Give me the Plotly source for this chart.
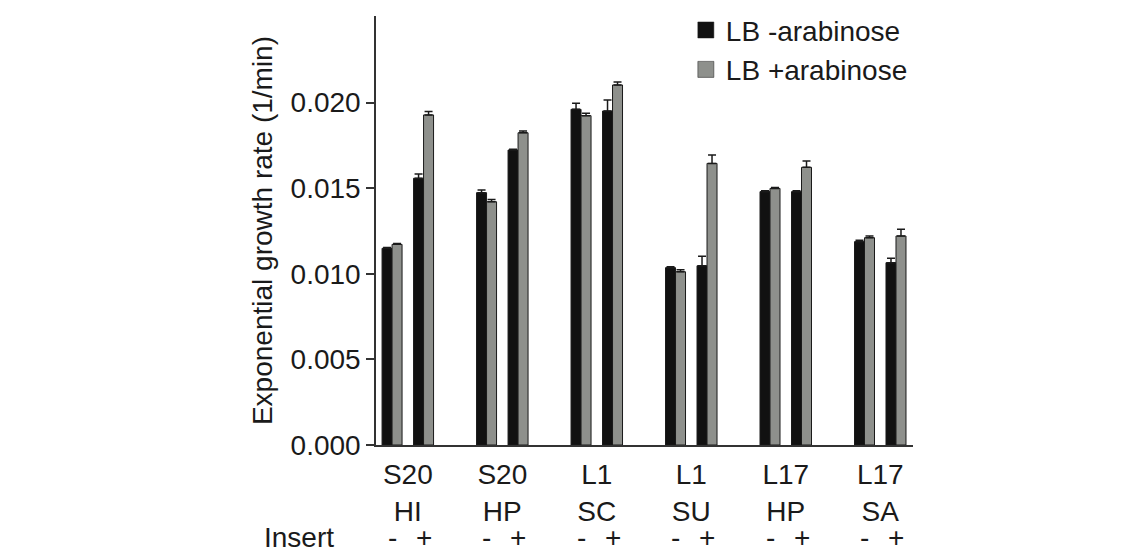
import plotly.graph_objects as go

# ---- data ----
strains = ["S20", "S20", "L1", "L1", "L17", "L17"]
proteins = ["HI", "HP", "SC", "SU", "HP", "SA"]
inserts = ["-", "+"]

# values ordered: group0 -, group0 +, group1 -, ...
minus_ara = [0.01149, 0.01558, 0.01474, 0.01723, 0.01961, 0.01951,
             0.01036, 0.01047, 0.01480, 0.01480, 0.01188, 0.01065]
minus_ara_err = [0.00005, 0.00025, 0.00015, 0.00005, 0.00035, 0.00064,
                 0.00005, 0.00055, 0.00005, 0.00005, 0.00008, 0.00026]
plus_ara = [0.01172, 0.01928, 0.01421, 0.01824, 0.01924, 0.02103,
            0.01012, 0.01645, 0.01499, 0.01622, 0.01211, 0.01221]
plus_ara_err = [0.00005, 0.00020, 0.00013, 0.00010, 0.00014, 0.00018,
                0.00012, 0.00049, 0.00005, 0.00037, 0.00010, 0.00039]

series_names = ["LB -arabinose", "LB +arabinose"]
series_colors = ["#111111", "#8e908c"]

# position of each bar pair: group index * 3 + insert index
xpos = [g * 3 + i for g in range(len(strains)) for i in range(len(inserts))]
group_centers = [g * 3 + 0.5 for g in range(len(strains))]
group_labels = [f"{s}<br>{p}" for s, p in zip(strains, proteins)]
insert_labels = [inserts[i] for g in range(len(strains)) for i in range(len(inserts))]

FONT = "Liberation Sans, Arial, Helvetica, sans-serif"
TXT = "#1a1a1a"
FS = 28

fig = go.Figure()
for name, vals, errs, col in [
    (series_names[0], minus_ara, minus_ara_err, series_colors[0]),
    (series_names[1], plus_ara, plus_ara_err, series_colors[1]),
]:
    fig.add_trace(go.Bar(
        x=xpos, y=vals, name=name, showlegend=False,
        marker=dict(color=col, line=dict(color="#1a1a1a", width=1)),
        error_y=dict(type="data", array=errs, arrayminus=[0] * len(errs),
                     symmetric=False, color="#1a1a1a", thickness=1.5, width=4),
    ))
    # legend entry with a larger square swatch
    fig.add_trace(go.Scatter(
        x=[None], y=[None], mode="markers", name=name, showlegend=True,
        marker=dict(symbol="square", size=16, color=col,
                    line=dict(color="#1a1a1a", width=0.5)),
    ))

for x, lab in zip(xpos, insert_labels):
    fig.add_annotation(x=x, y=-0.215, xref="x", yref="paper", text=lab,
                       showarrow=False, font=dict(size=FS, color=TXT, family=FONT),
                       xanchor="center", yanchor="middle")
fig.add_annotation(x=-0.143, y=-0.215, xref="paper", yref="paper", text="Insert",
                   showarrow=False, font=dict(size=FS, color=TXT, family=FONT),
                   xanchor="center", yanchor="middle")

fig.update_layout(
    width=1140, height=549,
    margin=dict(l=376, r=227, t=16, b=104, autoexpand=False),
    paper_bgcolor="white", plot_bgcolor="white",
    barmode="group", bargap=0.365, bargroupgap=0,
    font=dict(family=FONT, size=FS, color=TXT),
    showlegend=True,
    legend=dict(x=0.577, y=1.025, xanchor="left", yanchor="top",
                bgcolor="rgba(0,0,0,0)", font=dict(size=FS, color=TXT),
                tracegroupgap=0, itemwidth=30),
    xaxis=dict(range=[-0.51, 16.54], showline=True, linecolor="#333333",
               linewidth=1.5, ticks="", tickvals=group_centers,
               ticktext=group_labels, showgrid=False, zeroline=False,
               ticklabelstandoff=4,
               tickfont=dict(size=FS, color=TXT), fixedrange=True),
    yaxis=dict(range=[0, 0.02506], showline=True, linecolor="#333333",
               linewidth=1.5, ticks="outside", ticklen=8, tickwidth=1.5,
               tickcolor="#333333", tickvals=[0, 0.005, 0.01, 0.015, 0.02],
               tickformat=".3f", showgrid=False, zeroline=False,
               tickfont=dict(size=FS, color=TXT),
               title=dict(text="Exponential growth rate (1/min)",
                          font=dict(size=FS, color=TXT), standoff=10)),
)

fig.write_html("out.html")
